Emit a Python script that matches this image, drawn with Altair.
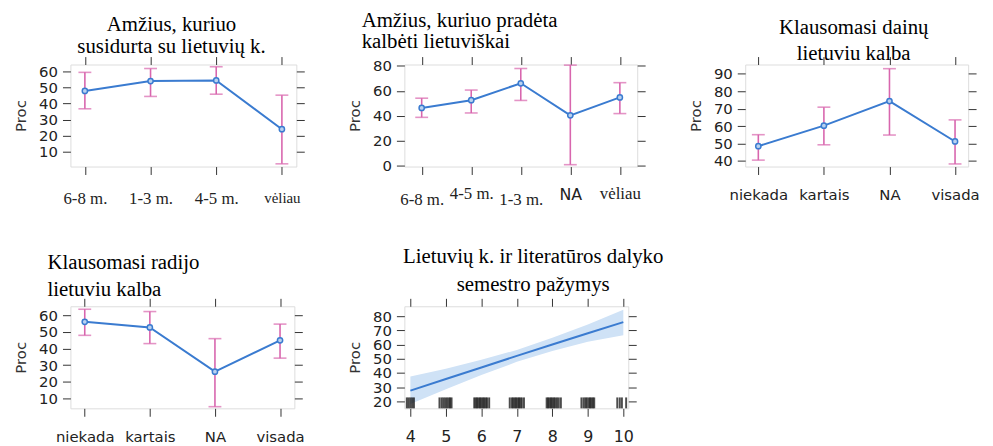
import altair as alt
import pandas as pd

# ---------------- data ----------------
cats1 = ["6-8 m.", "1-3 m.", "4-5 m.", "vėliau"]
est1 = [47.8, 54.0, 54.4, 24.0]
lo1 = [36.7, 44.4, 45.8, 2.4]
hi1 = [59.4, 61.8, 62.9, 45.2]

cats2 = ["6-8 m.", "4-5 m.", "1-3 m.", "NA", "vėliau"]
est2 = [46.3, 52.5, 66.0, 40.4, 54.7]
lo2 = [38.8, 42.3, 52.3, 1.0, 41.8]
hi2 = [54.1, 60.6, 77.8, 80.5, 66.5]

cats3 = ["niekada", "kartais", "NA", "visada"]
est3 = [48.5, 60.3, 74.4, 51.2]
lo3 = [40.5, 49.3, 54.9, 38.3]
hi3 = [55.1, 70.9, 93.0, 63.6]

cats4 = ["niekada", "kartais", "NA", "visada"]
est4 = [56.2, 52.8, 26.0, 45.0]
lo4 = [48.0, 43.0, 4.8, 34.2]
hi4 = [63.8, 62.4, 46.0, 54.8]

grade5 = [4, 5, 6, 7, 8, 9, 10]
fit5 = [27.5, 35.7, 43.8, 52.0, 60.0, 68.0, 75.8]
lo5 = [18.0, 28.5, 38.5, 47.8, 55.5, 62.0, 66.5]
hi5 = [37.5, 43.0, 49.2, 56.2, 64.8, 74.2, 84.5]
rug5 = [3.9, 3.95, 4.0, 4.05, 4.1,
        4.82, 4.88, 4.93, 4.98, 5.03, 5.08, 5.12, 5.16,
        5.8, 5.84, 5.88, 5.92, 5.96, 6.0, 6.04, 6.08, 6.12, 6.16, 6.22,
        6.8, 6.86, 6.9, 6.94, 6.98, 7.02, 7.06, 7.1, 7.14, 7.2,
        7.84, 7.88, 7.92, 7.96, 8.0, 8.04, 8.08, 8.13, 8.18, 8.24,
        8.82, 8.88, 8.93, 8.97, 9.02, 9.06, 9.1, 9.14, 9.18,
        9.83, 9.9, 9.96, 10.08]

titles = [
    ["Amžius, kuriuo", "susidurta su lietuvių k."],
    ["Amžius, kuriuo pradėta", "kalbėti lietuviškai"],
    ["Klausomasi dainų", "lietuviu kalba"],
    ["Klausomasi radijo", "lietuviu kalba"],
    ["Lietuvių k. ir literatūros dalyko", "semestro pažymys"],
]

# ---------------- style ----------------
BLUE = "#3a7bd0"
PINK = "#d866ae"
PT_FILL = "#b9d2f0"
BAND = "#cfe2f6"
SANS = "DejaVu Sans"
SERIF = "Liberation Serif"
TICK = "#333333"
H = 103


def y_axes(yticks):
    left = alt.Axis(orient="left", values=yticks, title="Proc", titleFont=SANS,
                    titleFontSize=15, titleFontWeight="normal", titleColor="#333",
                    titlePadding=10, labelFont=SANS, labelFontSize=15,
                    labelColor="#222", labelPadding=5, tickSize=8, tickColor=TICK,
                    domain=False, grid=False, labelOverlap=False, labelBound=False)
    right = alt.Axis(orient="right", values=yticks, labels=False, title=None,
                     tickSize=8, tickColor=TICK, domain=False, grid=False)
    return left, right


def x_axes(label_font, label_size, label_pad, values=None):
    kw = {}
    if values is not None:
        kw["values"] = values
    bottom = alt.Axis(orient="bottom", title=None, labelAngle=0, labelFont=label_font,
                      labelFontSize=label_size, labelColor="#222", labelPadding=label_pad,
                      tickSize=8, tickColor=TICK, domain=False, grid=False,
                      labelOverlap=False, labelFlush=False, labelBound=False, **kw)
    top = alt.Axis(orient="top", title=None, labels=False, tickSize=8, tickColor=TICK,
                   domain=False, grid=False, **kw)
    return bottom, top


def cat_panel(cats, est, lo, hi, ydom, yticks, pad, width, title,
              label_font, label_size, label_pad):
    df = pd.DataFrame({"cat": cats, "est": est, "lo": lo, "hi": hi})
    base = alt.Chart(df)
    xsc = alt.Scale(type="point", padding=pad, domain=cats)
    ysc = alt.Scale(domain=ydom, nice=False, zero=False)
    yl, yr = y_axes(yticks)
    xb, xt = x_axes(label_font, label_size, label_pad)
    rule = base.mark_rule(color=PINK, strokeWidth=1.6).encode(
        x=alt.X("cat:N", scale=xsc, sort=cats, axis=xb),
        y=alt.Y("lo:Q", scale=ysc, axis=yl), y2="hi:Q")
    cap_lo = base.mark_tick(color=PINK, orient="horizontal", size=13, thickness=1.6).encode(
        x=alt.X("cat:N", scale=xsc, sort=cats, axis=None),
        y=alt.Y("lo:Q", scale=ysc, axis=None))
    cap_hi = base.mark_tick(color=PINK, orient="horizontal", size=13, thickness=1.6).encode(
        x=alt.X("cat:N", scale=xsc, sort=cats, axis=None),
        y=alt.Y("hi:Q", scale=ysc, axis=None))
    line = base.mark_line(color=BLUE, strokeWidth=2).encode(
        x=alt.X("cat:N", scale=xsc, sort=cats, axis=xt),
        y=alt.Y("est:Q", scale=ysc, axis=yr))
    pts = base.mark_point(filled=True, fill=PT_FILL, stroke=BLUE, strokeWidth=1.5,
                          size=28, opacity=1).encode(
        x=alt.X("cat:N", scale=xsc, sort=cats, axis=None),
        y=alt.Y("est:Q", scale=ysc, axis=None))
    return (alt.layer(rule, cap_lo, cap_hi, line, pts)
            .resolve_axis(x="independent", y="independent")
            .properties(width=width, height=H, title=title))


def mk_title(lines, anchor, dx, offset, lh):
    return alt.TitleParams(text=lines, font=SERIF, fontSize=21, fontWeight="normal",
                           color="black", anchor=anchor, dx=dx, offset=offset,
                           lineHeight=lh)


serif_size1 = {"condition": {"test": "datum.label == 'vėliau'", "value": 15}, "value": 17}

p1 = cat_panel(cats1, est1, lo1, hi1, [0.7, 64.3], [10, 20, 30, 40, 50, 60], 0.22, 228,
               mk_title(titles[0], "middle", -12, -1, 22), SERIF, serif_size1, 16)

p2 = cat_panel(cats2, est2, lo2, hi2, [-0.5, 81], [0, 20, 40, 60, 80], 0.35, 235,
               mk_title(titles[1], "start", 14, 4, 21),
               {"condition": {"test": "datum.label == 'NA'", "value": SANS}, "value": SERIF},
               {"condition": {"test": "datum.label == 'NA'", "value": 16}, "value": 17},
               {"condition": [{"test": "datum.label == '6-8 m.' || datum.label == '1-3 m.'",
                               "value": 17},
                              {"test": "datum.label == 'NA'", "value": 12}],
                "value": 11})

p3 = cat_panel(cats3, est3, lo3, hi3, [36.8, 95.4], [40, 50, 60, 70, 80, 90], 0.2, 225,
               mk_title(titles[2], "middle", -3, -8, 26), SANS, 15, 13)

p4 = cat_panel(cats4, est4, lo4, hi4, [3.8, 65.6], [10, 20, 30, 40, 50, 60], 0.22, 226,
               mk_title(titles[3], "start", 34, -2, 27), SANS, 15, 13)

# panel 5: continuous effect with band and rug
df5 = pd.DataFrame({"g": grade5, "fit": fit5, "lo": lo5, "hi": hi5})
dfr = pd.DataFrame({"g": rug5})
x5 = alt.Scale(domain=[3.83, 10.14], nice=False, zero=False)
y5dom = [15, 87]
y5 = alt.Scale(domain=y5dom, nice=False, zero=False)
yl5, yr5 = y_axes([20, 30, 40, 50, 60, 70, 80])
xb5, xt5 = x_axes(SANS, 16, 12, values=grade5)
band = alt.Chart(df5).mark_area(color=BAND, opacity=1).encode(
    x=alt.X("g:Q", scale=x5, axis=xb5),
    y=alt.Y("lo:Q", scale=y5, axis=yl5), y2="hi:Q")
fitl = alt.Chart(df5).mark_line(color=BLUE, strokeWidth=2).encode(
    x=alt.X("g:Q", scale=x5, axis=xt5),
    y=alt.Y("fit:Q", scale=y5, axis=yr5))
rug = alt.Chart(dfr).mark_tick(color="black", orient="vertical", size=11, thickness=2,
                               yOffset=-5.5).encode(
    x=alt.X("g:Q", scale=x5, axis=None),
    y=alt.Y(datum=y5dom[0], scale=y5, axis=None))
p5 = (alt.layer(band, fitl, rug)
      .resolve_axis(x="independent", y="independent")
      .properties(width=226, height=H,
                  title=mk_title(titles[4], "middle", 17, 3, 28)))

chart = (alt.concat(p1, p2, p3, p4, p5, columns=3,
                    spacing={"row": 141, "column": 109}, bounds="flush", align="each")
         .resolve_scale(x="independent", y="independent")
         .configure_view(stroke="#333", strokeWidth=1)
         .configure(background="white",
                    padding={"top": 0, "left": 5, "right": 5, "bottom": 0}))

chart.save("out.html", embed_options={"renderer": "svg", "actions": False})
